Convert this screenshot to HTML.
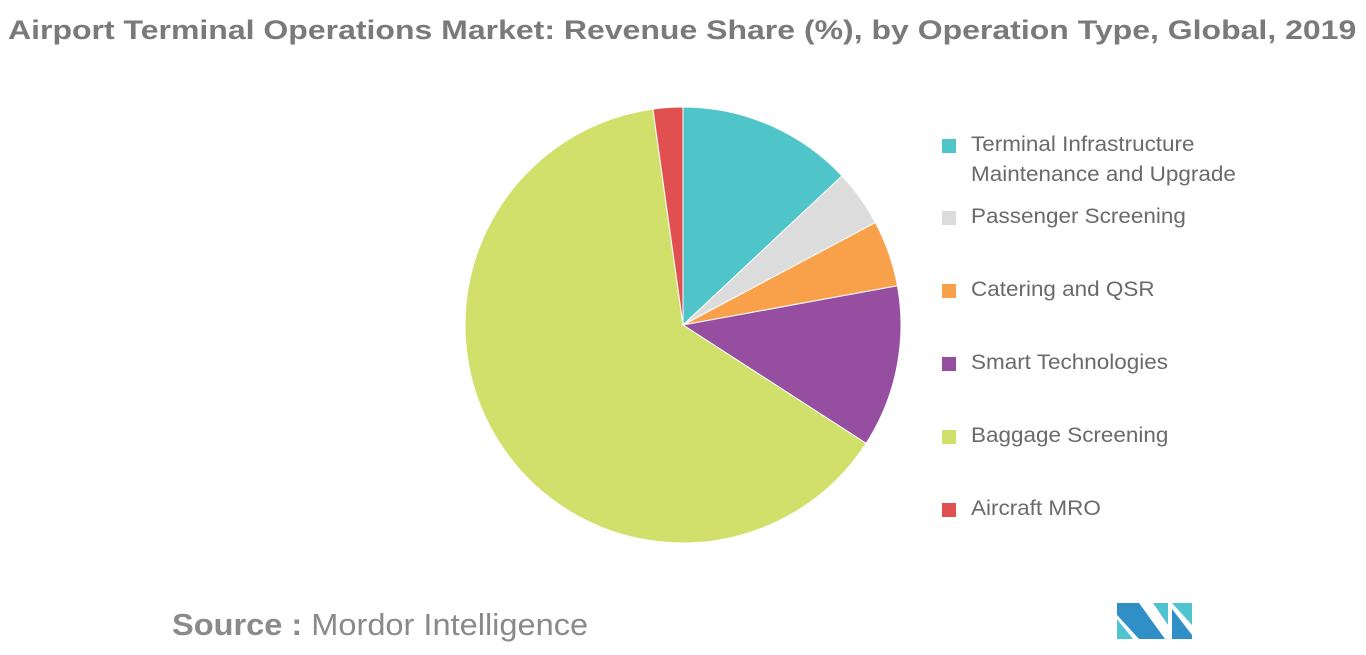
<!DOCTYPE html>
<html><head><meta charset="utf-8"><style>
body{margin:0;width:1366px;height:655px;background:#fff;font-family:"Liberation Sans",sans-serif;overflow:hidden;position:relative}
.title{position:absolute;left:8px;top:15px;font-size:27px;font-weight:bold;color:#7a7a7a;white-space:nowrap;transform-origin:0 0;transform:scaleX(1.185)}
.leg{position:absolute;left:942px;font-size:21px;color:#6a6a6a;line-height:30px;white-space:nowrap}
.leg span.t{margin-left:29px;display:block;transform-origin:0 0;transform:scaleX(1.07)}
.sw{position:absolute;left:0;top:9px;width:14px;height:14px}
.src{position:absolute;left:172px;top:607px;font-size:31px;color:#8a8a8a;white-space:nowrap;transform-origin:0 0;transform:scaleX(1.05)}
</style></head><body>
<div class="title">Airport Terminal Operations Market: Revenue Share (%), by Operation Type, Global, 2019</div>
<svg id="pie" width="1366" height="655" style="position:absolute;left:0;top:0"></svg>
<div id="legend"></div>
<div class="src"><b>Source :</b> Mordor Intelligence</div>
<svg style="position:absolute;left:1117px;top:603px" width="75" height="36">
<polygon points="0,0 22,0 48,36 22,36 0,12" fill="#2f8fc6"/>
<polygon points="0,16 16,36 0,36" fill="#4fc3cf"/>
<polygon points="36,0 51,0 51,22" fill="#4fc3cf"/>
<polygon points="55,0 75,0 75,22" fill="#4fc3cf"/>
<polygon points="55,6 75,32 75,36 55,36" fill="#2f8fc6"/>
</svg>
<script>
const categories=["Terminal Infrastructure Maintenance and Upgrade","Passenger Screening","Catering and QSR","Smart Technologies","Baggage Screening","Aircraft MRO"];
const values=[13,4.2,4.9,12,63.6,2.2];
const colors=["#4fc4c9","#dcdcdc","#f9a14a","#964fa0","#d0e06a","#e05050"];
const labelLines=[["Terminal Infrastructure","Maintenance and Upgrade"],["Passenger Screening"],["Catering and QSR"],["Smart Technologies"],["Baggage Screening"],["Aircraft MRO"]];
const cx=683,cy=325,r=218;
const svg=document.getElementById('pie');
const total=values.reduce((a,b)=>a+b,0);
let a0=0;
values.forEach((v,i)=>{
  const a1=a0+v/total*2*Math.PI;
  const x0=cx+r*Math.sin(a0),y0=cy-r*Math.cos(a0),x1=cx+r*Math.sin(a1),y1=cy-r*Math.cos(a1);
  const p=document.createElementNS('http://www.w3.org/2000/svg','path');
  p.setAttribute('d',`M${cx},${cy}L${x0},${y0}A${r},${r} 0 ${a1-a0>Math.PI?1:0} 1 ${x1},${y1}Z`);
  p.setAttribute('fill',colors[i]);
  p.setAttribute('stroke','#fff');p.setAttribute('stroke-width','1');
  
  
  svg.appendChild(p);
  a0=a1;
});
const tops=[130,202,275,348,421,494];
const lg=document.getElementById('legend');
categories.forEach((c,i)=>{
  const d=document.createElement('div');
  d.className='leg';d.style.top=tops[i]+'px';
  
  
  d.innerHTML=`<div class="sw" style="background:${colors[i]}"></div><span class="t">${labelLines[i].join('<br>')}</span>`;
  lg.appendChild(d);
});
</script>
</body></html>
